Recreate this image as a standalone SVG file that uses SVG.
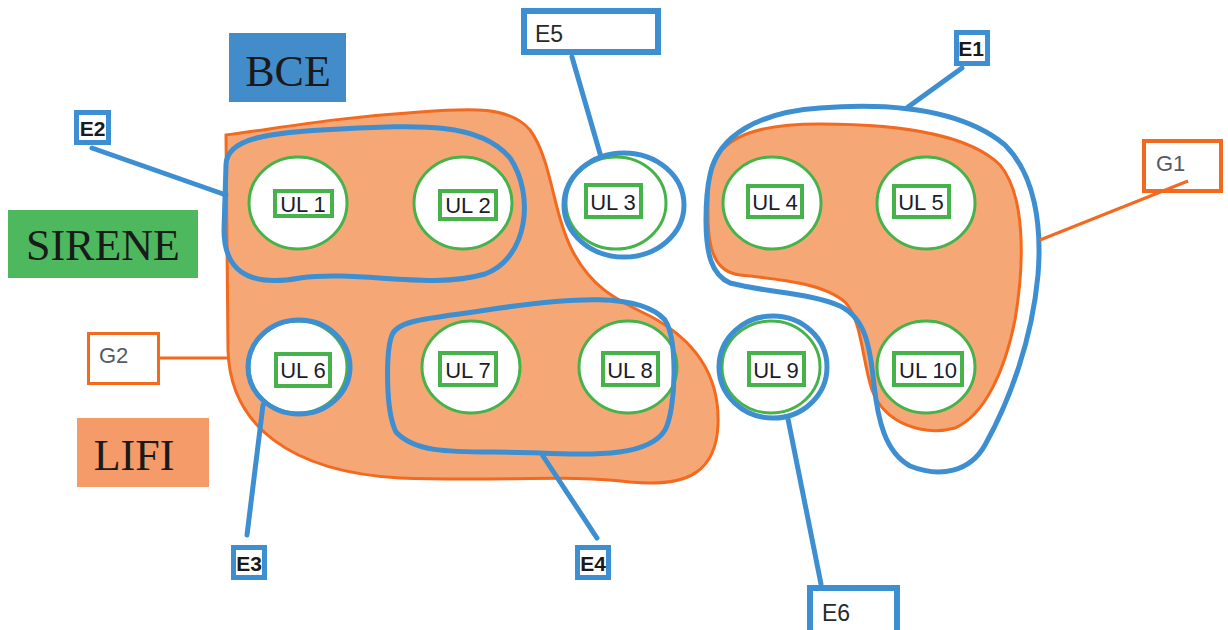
<svg xmlns="http://www.w3.org/2000/svg" width="1228" height="630" viewBox="0 0 1228 630">
<style>
.blob{fill:#f6a776;stroke:#f26a1f;stroke-width:3}
.ul{fill:#fff;stroke:#46b24a;stroke-width:3}
.lbl{fill:#fff;stroke:#46b24a;stroke-width:4}
.ult{font-family:"Liberation Sans",Arial,sans-serif;font-size:22px;fill:#1c1c2c;text-anchor:middle}
.bl{fill:none;stroke:#3d8fd1;stroke-width:5;stroke-linejoin:round;stroke-linecap:round}
.og{fill:none;stroke:#f26a1f;stroke-width:3}
.eb{fill:#fff;stroke:#3d8fd1;stroke-width:5}
.gb{fill:#fff;stroke:#f26a1f;stroke-width:4}
.et{font-family:"Liberation Sans",Arial,sans-serif;font-size:21px;font-weight:bold;fill:#1a1a1a;text-anchor:middle}
.e2t{font-family:"Liberation Sans",Arial,sans-serif;font-size:23px;fill:#2a2a2a}
.gt{font-family:"Liberation Sans",Arial,sans-serif;font-size:22px;fill:#555a66}
.leg{font-family:"Liberation Serif","Times New Roman",serif;font-size:44px;fill:#1a1a1a;text-anchor:middle}
</style>
<g id="legend">
<g id="bce"><rect x="229" y="33" width="117" height="69" fill="#428cca"/><text class="leg" x="288" y="86">BCE</text></g>
<g id="sirene"><rect x="8" y="210" width="190" height="68" fill="#4db85d"/><text class="leg" x="103" y="260">SIRENE</text></g>
<g id="lifi"><rect x="77" y="418" width="132" height="69" fill="#f59a69"/><text class="leg" x="134" y="470">LIFI</text></g>
</g>
<g id="groups">
<path id="g2-blob" class="blob" d="M226,135 L228,350 C230,425 290,472 400,478 C500,482 570,474 630,482 C690,488 716,470 718,425 C720,375 695,340 650,316 C612,298 590,285 572,250 C552,210 552,160 530,130 C510,106 470,108 420,112 C330,118 280,128 226,135 Z"/>
<path id="g1-blob" class="blob" d="M712,165 C725,135 760,124 820,124 C900,124 970,135 1000,165 C1025,195 1025,260 1015,320 C1005,370 985,415 955,428 C925,436 885,425 872,390 C862,360 862,320 845,302 C825,285 790,280 740,275 C715,272 708,250 708,215 C708,195 708,178 712,165 Z"/>
</g>
<g id="units">
<g id="ul1"><ellipse class="ul" cx="298" cy="203" rx="49" ry="46"/><rect class="lbl" x="275" y="191" width="57" height="25"/><text class="ult" x="303" y="212">UL 1</text></g>
<g id="ul2"><ellipse class="ul" cx="463" cy="203" rx="49" ry="46"/><rect class="lbl" x="440" y="191" width="56" height="28"/><text class="ult" x="468" y="213">UL 2</text></g>
<g id="ul3"><ellipse class="ul" cx="616" cy="203" rx="50" ry="46"/><rect class="lbl" x="586" y="185" width="55" height="32"/><text class="ult" x="613" y="210">UL 3</text></g>
<g id="ul4"><ellipse class="ul" cx="772" cy="203" rx="49" ry="46"/><rect class="lbl" x="748" y="186" width="54" height="31"/><text class="ult" x="775" y="210">UL 4</text></g>
<g id="ul5"><ellipse class="ul" cx="926" cy="203" rx="49" ry="46"/><rect class="lbl" x="894" y="186" width="55" height="31"/><text class="ult" x="921" y="210">UL 5</text></g>
<g id="ul6"><ellipse class="ul" cx="298" cy="367" rx="49" ry="46"/><rect class="lbl" x="276" y="354" width="54" height="32"/><text class="ult" x="303" y="378">UL 6</text></g>
<g id="ul7"><ellipse class="ul" cx="471" cy="367" rx="49" ry="46"/><rect class="lbl" x="440" y="353" width="56" height="32"/><text class="ult" x="468" y="378">UL 7</text></g>
<g id="ul8"><ellipse class="ul" cx="628" cy="367" rx="49" ry="46"/><rect class="lbl" x="603" y="353" width="55" height="32"/><text class="ult" x="630" y="378">UL 8</text></g>
<g id="ul9"><ellipse class="ul" cx="771" cy="367" rx="49" ry="46"/><rect class="lbl" x="749" y="353" width="55" height="32"/><text class="ult" x="776" y="378">UL 9</text></g>
<g id="ul10"><ellipse class="ul" cx="926" cy="367" rx="49" ry="46"/><rect class="lbl" x="894" y="353" width="68" height="32"/><text class="ult" x="928" y="378">UL 10</text></g>
</g>
<g id="entities">
<path id="e2-outline" class="bl" d="M226,165 C226,138 270,132 340,129 C420,125 480,122 510,158 C535,195 528,258 485,274 C430,290 360,270 300,278 C245,288 224,268 224,230 Z"/>
<path id="e4-outline" class="bl" d="M392,335 C398,318 440,318 500,308 C570,298 640,292 665,320 C678,340 676,410 665,430 C650,455 600,456 540,453 C470,450 420,458 396,432 C385,410 386,350 392,335 Z"/>
<ellipse id="e5-outline" class="bl" cx="624" cy="205" rx="60" ry="52"/>
<ellipse id="e3-outline" class="bl" cx="299" cy="367" rx="51" ry="47"/>
<ellipse id="e6-outline" class="bl" cx="773" cy="367" rx="54" ry="51"/>
<path id="e1-outline" class="bl" d="M710,175 C718,135 760,112 820,108 C900,102 965,112 1005,145 C1035,175 1042,225 1038,275 C1032,340 1010,400 985,445 C970,472 940,478 910,466 C885,452 878,420 874,385 C870,345 865,318 840,306 C810,293 770,293 730,283 C712,275 706,255 706,220 C706,200 707,188 710,175 Z"/>
</g>
<g id="labels">
<g id="e2"><rect class="eb" x="76.5" y="112.5" width="32" height="30"/><text class="et" x="92.5" y="136">E2</text></g>
<g id="e1"><rect class="eb" x="956.5" y="32.5" width="31" height="31"/><text class="et" x="971" y="56">E1</text></g>
<g id="e3"><rect class="eb" x="233.5" y="547.5" width="31" height="30"/><text class="et" x="249" y="571">E3</text></g>
<g id="e4"><rect class="eb" x="577.5" y="547.5" width="31" height="30"/><text class="et" x="593" y="571">E4</text></g>
<g id="e5"><rect class="eb" x="524" y="11" width="134" height="41" style="stroke-width:6"/><text class="e2t" x="535" y="42">E5</text></g>
<g id="e6"><rect class="eb" x="810" y="588" width="87" height="50" style="stroke-width:6"/><text class="e2t" x="822" y="621">E6</text></g>
<g id="g1"><rect class="gb" x="1144" y="141" width="77" height="50"/><text class="gt" x="1156" y="171">G1</text></g>
<g id="g2"><rect class="gb" x="88.5" y="333.5" width="70" height="50" style="stroke-width:3"/><text class="gt" x="99" y="363">G2</text></g>
</g>
<g id="connectors">
<line class="bl" x1="92" y1="148" x2="226" y2="195"/>
<line class="bl" x1="572" y1="57" x2="601" y2="157"/>
<line class="bl" x1="962" y1="68" x2="908" y2="107"/>
<line class="og" x1="1040" y1="240" x2="1188" y2="181"/>
<line class="og" x1="160" y1="358" x2="228" y2="358"/>
<line class="bl" x1="263" y1="405" x2="247" y2="535"/>
<line class="bl" x1="543" y1="456" x2="597" y2="538"/>
<line class="bl" x1="788" y1="419" x2="821" y2="584"/>
</g>
</svg>
